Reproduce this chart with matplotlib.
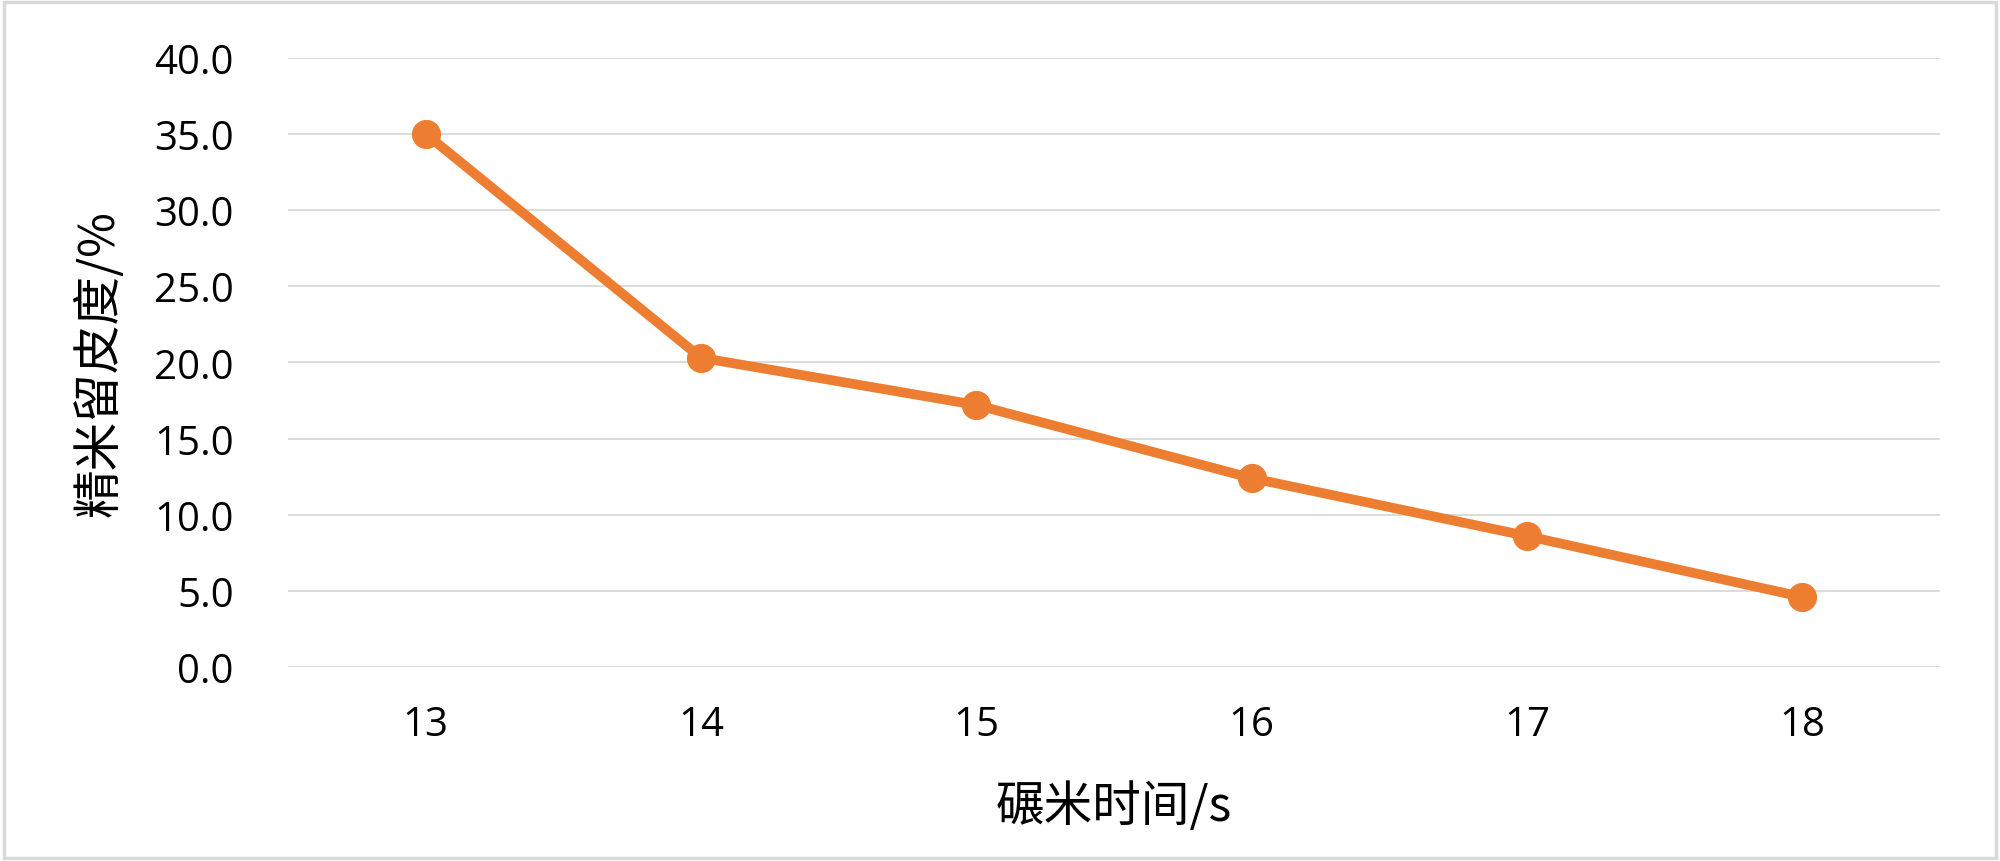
import matplotlib.pyplot as plt
from matplotlib.patches import Rectangle

plt.rcParams["font.family"] = ["Open Sans", "Noto Sans CJK SC", "DejaVu Sans"]

# data
milling_time = ["13", "14", "15", "16", "17", "18"]
retention = [35.0, 20.3, 17.2, 12.4, 8.6, 4.6]
y_ticks = [0.0, 5.0, 10.0, 15.0, 20.0, 25.0, 30.0, 35.0, 40.0]

orange = "#ED7D31"
grid_grey = "#D9D9D9"

fig = plt.figure(figsize=(20, 8.62), dpi=100)
ax = fig.add_axes([0.144, 0.225, 0.826, 0.707])

x = list(range(len(milling_time)))
ax.plot(x, retention, color=orange, lw=7, marker="o", markersize=20,
        markerfacecolor=orange, markeredgecolor=orange, solid_capstyle="round",
        zorder=3)

ax.set_xlim(-0.5, len(milling_time) - 0.5)
ax.set_ylim(0, 40)
ax.set_xticks(x)
ax.set_xticklabels(milling_time)
ax.set_yticks(y_ticks)
ax.set_yticklabels([f"{v:.1f}" for v in y_ticks])

ax.yaxis.grid(True, color=grid_grey, lw=1.3)
ax.set_axisbelow(True)
for sp in ax.spines.values():
    sp.set_visible(False)

ax.tick_params(axis="both", length=0, labelsize=29)
ax.tick_params(axis="y", pad=39)
ax.tick_params(axis="x", pad=27)

cjk = ["Noto Sans CJK SC", "DejaVu Sans"]
ax.set_ylabel("精米留皮度/%", fontsize=35, family=cjk, va="center")
ax.yaxis.set_label_coords(-0.114, 0.5)
ax.set_xlabel("碾米时间/s", fontsize=35, family=cjk, va="center")
ax.xaxis.set_label_coords(0.5, -0.228)

# light frame around the whole chart
fig.patches.append(Rectangle((0.002, 0.003), 0.996, 0.994, transform=fig.transFigure,
                             fill=False, edgecolor=grid_grey, lw=2.5))

fig.savefig("out.png", dpi=100, facecolor="white")
